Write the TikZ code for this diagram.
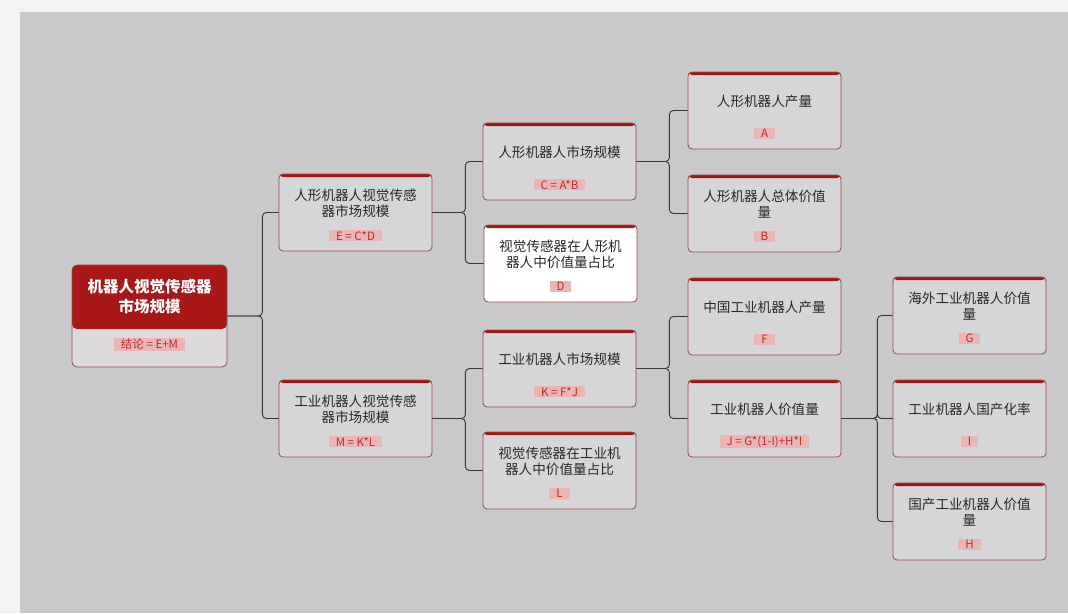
\documentclass[tikz,border=0pt]{standalone}
\usepackage{fontspec}
\setmainfont{Noto Sans CJK SC}
\definecolor{outer}{RGB}{243,243,243}
\definecolor{bg}{RGB}{201,201,203}
\definecolor{boxfill}{RGB}{214,214,216}
\definecolor{boxline}{RGB}{150,72,72}
\definecolor{topbar}{RGB}{160,22,22}
\definecolor{rootred}{RGB}{168,24,24}
\definecolor{rootlow}{RGB}{220,218,220}
\definecolor{labbg}{RGB}{232,182,182}
\definecolor{labtxt}{RGB}{196,40,40}
\definecolor{txt}{RGB}{40,40,40}
\definecolor{conncol}{RGB}{55,55,55}
\tikzset{
  box/.style={rectangle, rounded corners=4pt, draw=boxline, line width=0.8pt, fill=boxfill,
    minimum width=153pt, minimum height=77pt, inner sep=0pt,
    path picture={\fill[topbar] (path picture bounding box.north west) rectangle ([yshift=-3pt]path picture bounding box.north east);}},
  rootbox/.style={rectangle, rounded corners=5pt, draw=boxline, line width=0.8pt, fill=rootlow,
    minimum width=155pt, minimum height=102pt, inner sep=0pt,
    path picture={\fill[rootred] (path picture bounding box.north west) rectangle ([yshift=-64pt]path picture bounding box.north east);}},
  ttl/.style={align=center, text=txt, font=\fontsize{13.6}{16}\selectfont, inner sep=0pt},
  roottxt/.style={align=center, text=white, font=\fontsize{15.5}{20}\selectfont\bfseries, inner sep=0pt},
  lab/.style={fill=labbg, text=labtxt, font=\fontsize{11.5}{13}\selectfont, inner xsep=7pt, inner ysep=1pt},
  conn/.style={draw=conncol, line width=0.9pt, rounded corners=4pt},
}
\newcommand\kbox[6]{%
  \node[box, fill=#6] (#1) at (#2+76.5,#3+38.5) {};
  \node[ttl] (#1t) at ([yshift=-30pt]#1.north) {#4};
  \node[lab] (#1l) at ([yshift=-62pt]#1.north) {#5};
}
\begin{document}
\begin{tikzpicture}[x=1pt,y=-1pt]
\useasboundingbox (0,0) rectangle (1068,613);
\fill[outer] (0,0) rectangle (1068,613);
\fill[bg] (20,12) rectangle (1068,613);

% root
\node[rootbox] (root) at (149.5,316) {};
\node[roottxt] (rt) at ([yshift=-32pt]root.north) {机器人视觉传感器\\市场规模};
\node[lab] (rl) at ([yshift=-80pt]root.north) {结论 = E+M};

% level 2
\kbox{ha}{279}{174}{人形机器人视觉传感\\器市场规模}{E = C*D}{boxfill}
\kbox{ia}{279}{380}{工业机器人视觉传感\\器市场规模}{M = K*L}{boxfill}
% level 3
\kbox{c}{483}{123}{人形机器人市场规模}{C = A*B}{boxfill}
\kbox{d}{484}{225}{视觉传感器在人形机\\器人中价值量占比}{D}{white}
\kbox{k}{483}{330}{工业机器人市场规模}{K = F*J}{boxfill}
\kbox{l}{483}{432}{视觉传感器在工业机\\器人中价值量占比}{L}{boxfill}
% level 4
\kbox{a}{688}{72}{人形机器人产量}{A}{boxfill}
\kbox{b}{688}{175}{人形机器人总体价值\\量}{B}{boxfill}
\kbox{f}{688}{278}{中国工业机器人产量}{F}{boxfill}
\kbox{j}{688}{380}{工业机器人价值量}{J = G*(1-I)+H*I}{boxfill}
% level 5
\kbox{g}{893}{277}{海外工业机器人价值\\量}{G}{boxfill}
\kbox{i}{893}{380}{工业机器人国产化率}{I}{boxfill}
\kbox{h}{893}{483}{国产工业机器人价值\\量}{H}{boxfill}

% connectors
\draw[conn] (root.east) -- ++(35,0) |- (ha.west);
\draw[conn] (root.east) -- ++(35,0) |- (ia.west);
\draw[conn] (ha.east) -- ++(33,0) |- (c.west);
\draw[conn] (ha.east) -- ++(33,0) |- (d.west);
\draw[conn] (ia.east) -- ++(33,0) |- (k.west);
\draw[conn] (ia.east) -- ++(33,0) |- (l.west);
\draw[conn] (c.east) -- ++(33,0) |- (a.west);
\draw[conn] (c.east) -- ++(33,0) |- (b.west);
\draw[conn] (k.east) -- ++(33,0) |- (f.west);
\draw[conn] (k.east) -- ++(33,0) |- (j.west);
\draw[conn] (j.east) -- ++(36,0) |- (g.west);
\draw[conn] (j.east) -- ++(36,0) |- (i.west);
\draw[conn] (j.east) -- ++(36,0) |- (h.west);
\end{tikzpicture}
\end{document}
